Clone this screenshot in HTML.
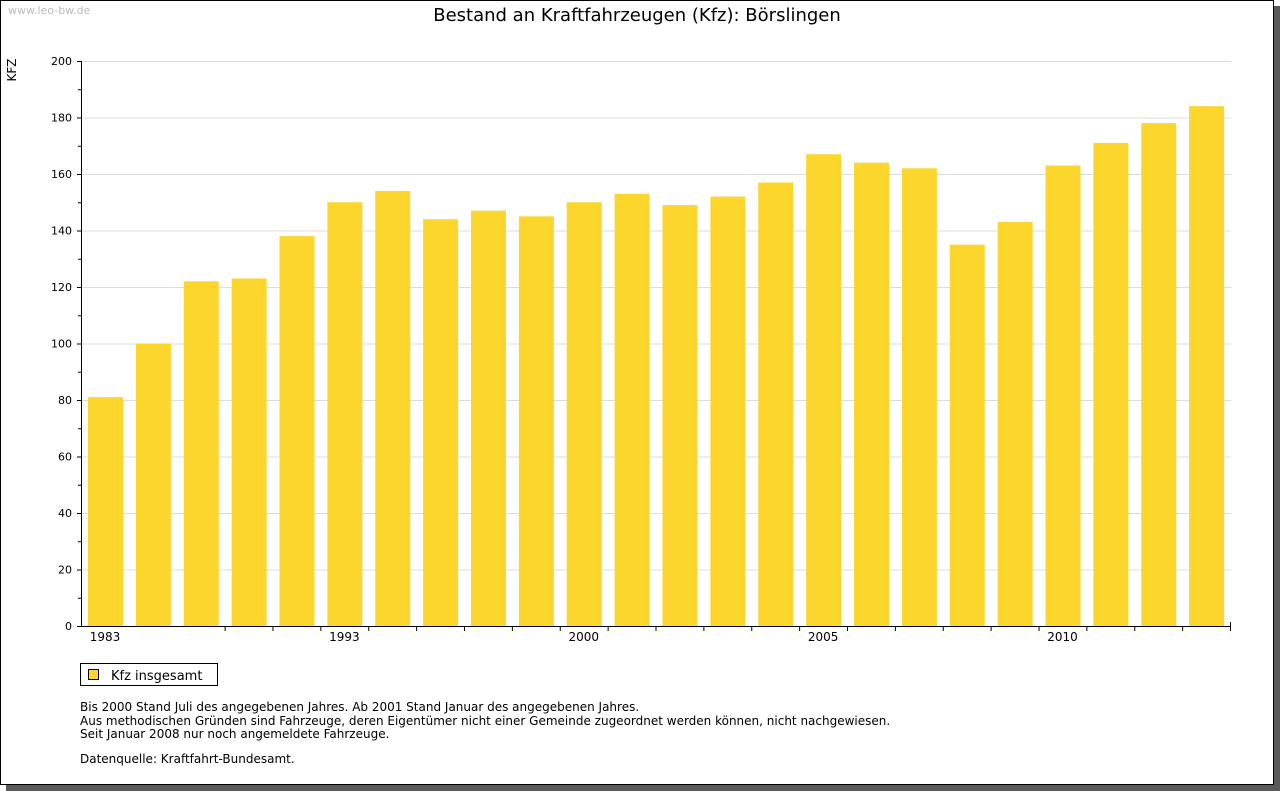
<!DOCTYPE html>
<html><head><meta charset="utf-8"><style>
html,body{margin:0;padding:0;background:#fff;}
body{width:1280px;height:791px;position:relative;overflow:hidden;font-family:"DejaVu Sans","Liberation Sans",sans-serif;}
#frame{position:absolute;left:0;top:0;width:1272px;height:783px;border:1px solid #000;background:#fff;}
#shadow-r{position:absolute;left:1274px;top:6px;width:6px;height:785px;background:#5a5a5a;}
#shadow-b{position:absolute;left:6px;top:785px;width:1274px;height:6px;background:#5a5a5a;}
.note{position:absolute;left:80px;font-size:12px;color:#000;line-height:13.5px;}
</style></head><body>
<div id="shadow-r"></div>
<div id="shadow-b"></div>
<div id="frame"></div>
<svg id="chart" width="1280" height="791" style="position:absolute;left:0;top:0">
<text x="8" y="14" font-size="11" fill="#bbb" font-family="DejaVu Sans, sans-serif">www.leo-bw.de</text>
<text x="637" y="21" font-size="18" text-anchor="middle" font-family="DejaVu Sans, sans-serif">Bestand an Kraftfahrzeugen (Kfz): Börslingen</text>
<text transform="translate(16,70) rotate(-90)" font-size="12" text-anchor="middle" font-family="DejaVu Sans, sans-serif">KFZ</text>
<g id="grid"></g><g id="bars"></g><g id="axes"></g>
<rect x="80.5" y="663.5" width="137" height="22" fill="#fff" stroke="#000"/>
<rect x="88.5" y="669.5" width="10" height="10" fill="#fcd62d" stroke="#000"/>
<text x="111" y="680" font-size="13" font-family="DejaVu Sans, sans-serif">Kfz insgesamt</text>
</svg>
<div class="note" style="top:701px">Bis 2000 Stand Juli des angegebenen Jahres. Ab 2001 Stand Januar des angegebenen Jahres.<br>Aus methodischen Gründen sind Fahrzeuge, deren Eigentümer nicht einer Gemeinde zugeordnet werden können, nicht nachgewiesen.<br>Seit Januar 2008 nur noch angemeldete Fahrzeuge.</div>
<div class="note" style="top:753px">Datenquelle: Kraftfahrt-Bundesamt.</div>
<script>
const categories=["1983","1988","1990","1991","1992","1993","1994","1995","1996","1997","2000","2001","2002","2003","2004","2005","2006","2007","2008","2009","2010","2011","2012","2013"];
const values=[81,100,122,123,138,150,154,144,147,145,150,153,149,152,157,167,164,162,135,143,163,171,178,184];
const shownLabels=["1983","1993","2000","2005","2010"];
const yTicks=[0,20,40,60,80,100,120,140,160,180,200];
const NS="http://www.w3.org/2000/svg";
const X0=81,X1=1230,Y0=626,Y1=61,YMAX=200;
const band=(X1-X0)/categories.length;
const y=v=>Y0-(v/YMAX)*(Y0-Y1);
const x=i=>X0+i*band;
function mk(t,a,p){const e=document.createElementNS(NS,t);for(const k in a)e.setAttribute(k,a[k]);p.appendChild(e);return e;}
const g=document.getElementById('grid'),b=document.getElementById('bars'),ax=document.getElementById('axes');
yTicks.forEach(v=>{
 if(v>0){const l=mk('line',{x1:X0,x2:X1+1,y1:y(v)+.5,y2:y(v)+.5,stroke:'#dcdcdc'},g);
 
 }
 const t=mk('line',{x1:X0-4,x2:X0,y1:y(v)+.5,y2:y(v)+.5,stroke:'#000'},ax);
 
 
 if(v<YMAX){const m=mk('line',{x1:X0-3,x2:X0,y1:y(v+10)+.5,y2:y(v+10)+.5,stroke:'#000'},ax);
 
 }
 const tx=mk('text',{x:X0-9,y:y(v)+4,'font-size':11,'text-anchor':'end','font-family':'DejaVu Sans, sans-serif'},ax);
 tx.textContent=v;
 
 
});
values.forEach((v,i)=>{
 const r=mk('rect',{x:x(i)+7,y:y(v),width:35,height:Y0-y(v),fill:'#fcd62d'},b);
 
 
 if(i>=3){const t=mk('line',{x1:x(i)+.5,x2:x(i)+.5,y1:Y0,y2:Y0+5,stroke:'#000'},ax);
 
 }
 if(shownLabels.includes(categories[i])){
  const tx=mk('text',{x:x(i)+24,y:Y0+15,'font-size':12,'text-anchor':'middle','font-family':'DejaVu Sans, sans-serif'},ax);
  tx.textContent=categories[i];
  
  }
});
const xa=mk('line',{x1:X0,x2:X1+1,y1:Y0+.5,y2:Y0+.5,stroke:'#000'},ax);


const ya=mk('line',{x1:X0+.5,x2:X0+.5,y1:Y1,y2:Y0+1,stroke:'#000'},ax);


const re=mk('line',{x1:X1+.5,x2:X1+.5,y1:Y0-4,y2:Y0+5,stroke:'#000'},ax);


</script>
</body></html>
